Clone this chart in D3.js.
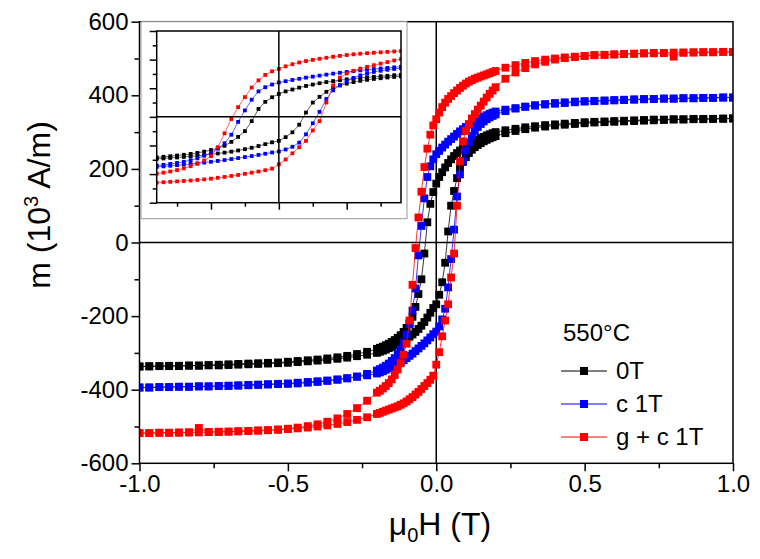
<!DOCTYPE html>
<html><head><meta charset="utf-8">
<script src="https://cdn.jsdelivr.net/npm/d3@7"></script>
<style>body{margin:0;background:#fff}svg{display:block;font-family:Arial,"Liberation Sans",sans-serif}</style>
</head><body><svg id="c" width="760" height="559"></svg>
<script>
// ---------------- data ----------------
// field grid of the descending branch (T), from +1 to -1
const hGrid = [1.0,0.967,0.933,0.9,0.867,0.833,0.8,0.767,0.733,0.7,0.667,0.633,0.6,0.567,0.533,0.5,0.467,0.433,0.4,0.367,0.333,0.3,0.267,0.233,0.2,
 0.19,0.18,0.17,0.16,0.15,0.14,0.13,0.12,0.11,0.1,0.09,0.08,0.07,0.06,0.05,0.04,0.03,0.02,0.01,0,
 -0.01,-0.02,-0.03,-0.04,-0.05,-0.06,-0.07,-0.08,-0.09,-0.1,-0.11,-0.12,-0.13,-0.14,-0.15,-0.16,-0.17,-0.18,-0.19,
 -0.2,-0.233,-0.267,-0.3,-0.333,-0.367,-0.4,-0.433,-0.467,-0.5,-0.533,-0.567,-0.6,-0.633,-0.667,-0.7,-0.733,-0.767,-0.8,-0.833,-0.867,-0.9,-0.933,-0.967,-1.0];
// ascending branch uses the same grid, from -1 to +1
const hGridUp = hGrid.slice().reverse();

const seriesNames = ["0T", "c 1T", "g + c 1T"];
const seriesColors = ["#000000", "#0000ff", "#ff0000"];
const legendTitle = "550°C";

// m (10^3 A/m), descending branch (H: +1 -> -1)
const black_down = [337,337,336,336,336,335,335,334,334,333,332,331,330,329,328,327,325,323,321,319,316,313,309,305,300,
 297,294,291,287,284,280,276,272,267,262,256,250,243,235,226,216,204,191,178,160,
 137,105,55,-30,-100,-140,-175,-202,-219,-232,-243,-252,-259,-265,-270,-275,-279,-283,-286,
 -289,-297,-303,-308,-312,-315,-318,-320,-322,-324,-326,-327,-328,-329,-330,-331,-332,-333,-334,-334,-335,-335,-336,-336,-337];
// ascending branch (H: -1 -> +1)
const black_up = [-337,-337,-336,-336,-336,-335,-335,-334,-334,-333,-332,-331,-330,-329,-328,-327,-325,-323,-321,-319,-316,-313,-309,-305,-300,
 -297,-294,-291,-287,-284,-280,-276,-272,-267,-262,-256,-250,-243,-235,-226,-216,-204,-191,-178,-168,
 -142,-108,-55,30,100,140,175,202,219,232,243,252,259,265,270,275,279,283,286,
 289,297,303,308,312,315,318,320,322,324,326,327,328,329,330,331,332,333,334,334,335,335,336,336,337];

const blue_down = [394,394,393,393,392,392,391,391,390,389,388,387,386,385,384,383,381,379,377,375,372,369,365,361,356,
 353,350,346,342,338,334,329,325,320,314,308,302,295,288,281,274,266,258,249,240,
 226,207,178,120,45,-35,-125,-185,-222,-250,-272,-290,-303,-314,-322,-329,-335,-340,-344,
 -348,-357,-364,-369,-373,-376,-379,-381,-383,-384,-385,-386,-387,-388,-389,-390,-390,-391,-391,-392,-392,-393,-393,-394,-394];
const blue_up = [-394,-394,-393,-393,-392,-392,-391,-391,-390,-389,-388,-387,-386,-385,-384,-383,-381,-379,-377,-375,-372,-369,-365,-361,-356,
 -353,-350,-346,-342,-338,-334,-329,-325,-320,-314,-308,-302,-295,-288,-281,-274,-266,-258,-249,-242,
 -228,-209,-180,-122,-45,35,125,185,222,250,272,290,303,314,322,329,335,340,344,
 348,357,364,369,373,376,379,381,383,384,385,386,387,388,389,390,390,391,391,392,392,393,393,394,394];

const red_down = [518,518,517,517,516,516,505,515,514,514,513,512,511,510,509,507,505,503,500,497,493,488,482,475,466,
 463,460,457,454,451,448,445,441,437,432,426,420,413,406,398,390,380,368,353,335,
 318,293,255,205,138,68,-15,-115,-212,-275,-305,-328,-345,-360,-372,-382,-390,-397,-403,
 -408,-430,-450,-466,-478,-487,-494,-499,-503,-506,-508,-510,-511,-512,-513,-514,-515,-515,-516,-516,-517,-517,-517,-518,-518];
const red_up = [-518,-518,-517,-517,-516,-516,-504,-515,-514,-514,-513,-512,-511,-510,-509,-507,-505,-503,-500,-497,-493,-488,-482,-475,-466,
 -463,-460,-457,-454,-451,-448,-445,-441,-437,-432,-426,-420,-413,-406,-398,-390,-382,-373,-362,-332,
 -298,-255,-212,-168,-95,-30,100,220,275,303,322,337,349,361,372,383,394,404,413,
 422,445,462,474,484,491,497,501,504,507,509,510,511,512,513,514,515,515,516,516,517,517,517,518,518];

const xTicks = [-1.0,-0.5,0.0,0.5,1.0];
const xTickLabels = ["-1.0","-0.5","0.0","0.5","1.0"];
const xMinor = [-0.75,-0.25,0.25,0.75];
const yTicks = [-600,-400,-200,0,200,400,600];
const yTickLabels = ["-600","-400","-200","0","200","400","600"];
const yMinor = [-500,-300,-100,100,300,500];
const insetXTicks = [-0.1,0,0.1];
const insetXMinor = [-0.15,-0.05,0.05,0.15];
const insetYTicks = [-600,-400,-200,0,200,400,600];
const insetYMinor = [-500,-300,-100,100,300,500];

const series = [
  {name: seriesNames[0], color: seriesColors[0], down: black_down, up: black_up},
  {name: seriesNames[1], color: seriesColors[1], down: blue_down, up: blue_up},
  {name: seriesNames[2], color: seriesColors[2], down: red_down, up: red_up}
];
function pts(s){
  const a = hGrid.map((h,i)=>[h, s.down[i]]);
  const b = hGridUp.map((h,i)=>[h, s.up[i]]);
  return a.concat(b);
}

// ---------------- drawing ----------------
const svg = d3.select("#c");
const L=139.5, R=733, T=21.7, B=463.3;
const x = d3.scaleLinear().domain([-1,1]).range([L,R]);
const y = d3.scaleLinear().domain([-600,600]).range([B,T]);

const clipM = svg.append("clipPath").attr("id","cm");
clipM.append("rect").attr("x",L).attr("y",T).attr("width",R-L).attr("height",B-T);

// zero lines
svg.append("line").attr("x1",x(0)).attr("x2",x(0)).attr("y1",T).attr("y2",B).attr("stroke","#000").attr("stroke-width",1.5);
svg.append("line").attr("x1",L).attr("x2",R).attr("y1",y(0)).attr("y2",y(0)).attr("stroke","#000").attr("stroke-width",1.5);

const gm = svg.append("g").attr("clip-path","url(#cm)");
const ms = 7.8;
series.forEach(s=>{
  const p = pts(s);
  const line = d3.line().x(d=>x(d[0])).y(d=>y(d[1]));
  gm.append("path").attr("d",line(p)).attr("fill","none").attr("stroke",s.color).attr("stroke-width",0.8);
  gm.append("g").selectAll("rect").data(p).join("rect")
    .attr("x",d=>x(d[0])-ms/2).attr("y",d=>y(d[1])-ms/2).attr("width",ms).attr("height",ms)
    .attr("fill",s.color);
});

// frame
svg.append("rect").attr("x",L).attr("y",T).attr("width",R-L).attr("height",B-T).attr("fill","none").attr("stroke","#000").attr("stroke-width",1.5);

// axes
svg.append("g").attr("transform",`translate(0,${B})`)
  .call(d3.axisBottom(x).tickValues(xTicks).tickSize(8).tickPadding(4).tickFormat((d,i)=>xTickLabels[i]));
svg.append("g").attr("transform",`translate(0,${B})`)
  .call(d3.axisBottom(x).tickValues(xMinor).tickSize(5).tickFormat(""));
svg.append("g").attr("transform",`translate(${L},0)`)
  .call(d3.axisLeft(y).tickValues(yTicks).tickSize(8).tickPadding(3).tickFormat((d,i)=>yTickLabels[i]));
svg.append("g").attr("transform",`translate(${L},0)`)
  .call(d3.axisLeft(y).tickValues(yMinor).tickSize(5).tickFormat(""));
svg.selectAll(".domain").remove();
svg.selectAll(".tick line").attr("stroke","#000").attr("stroke-width",1.5);
svg.selectAll(".tick text").attr("fill","#000").style("font-size","24px");

// axis titles
const xt = svg.append("text").attr("x",440).attr("y",535).attr("text-anchor","middle").style("font-size","32px");
xt.append("tspan").text("μ");
xt.append("tspan").attr("dy",7).style("font-size","20px").text("0");
xt.append("tspan").attr("dy",-7).text("H (T)");
const yt = svg.append("text").attr("transform",`translate(50,205) rotate(-90)`).attr("text-anchor","middle").style("font-size","32px");
yt.append("tspan").text("m (10");
yt.append("tspan").attr("dy",-12).style("font-size","20px").text("3");
yt.append("tspan").attr("dy",12).text(" A/m)");

// legend
svg.append("text").attr("x",563).attr("y",341).style("font-size","24px").text(legendTitle);
series.forEach((s,i)=>{
  const ly = 371 + i*33;
  svg.append("line").attr("x1",561).attr("x2",607).attr("y1",ly).attr("y2",ly).attr("stroke",s.color).attr("stroke-width",1);
  svg.append("rect").attr("x",584-4).attr("y",ly-4).attr("width",8).attr("height",8).attr("fill",s.color);
  svg.append("text").attr("x",616).attr("y",ly+8).style("font-size","24px").text(s.name);
});

// ---------------- inset ----------------
const iL=156.7, iR=401, iT=31, iB=202.7;
svg.append("rect").attr("x",141).attr("y",21.7).attr("width",266).attr("height",197).attr("fill","#fff").attr("stroke","#999").attr("stroke-width",1);
const ix = d3.scaleLinear().domain([-0.18,0.18]).range([iL,iR]);
const iy = d3.scaleLinear().domain([-600,600]).range([iB,iT]);
const clipI = svg.append("clipPath").attr("id","ci");
clipI.append("rect").attr("x",iL).attr("y",iT).attr("width",iR-iL).attr("height",iB-iT);
const gi = svg.append("g").attr("clip-path","url(#ci)");
const ims = 3.8;
series.forEach(s=>{
  const p = pts(s);
  const line = d3.line().x(d=>ix(d[0])).y(d=>iy(d[1]));
  gi.append("path").attr("d",line(p)).attr("fill","none").attr("stroke",s.color).attr("stroke-width",0.6);
  gi.append("g").selectAll("rect").data(p).join("rect")
    .attr("x",d=>ix(d[0])-ims/2).attr("y",d=>iy(d[1])-ims/2).attr("width",ims).attr("height",ims)
    .attr("fill",s.color);
});
svg.append("line").attr("x1",ix(0)).attr("x2",ix(0)).attr("y1",iT).attr("y2",iB).attr("stroke","#000").attr("stroke-width",1.5);
svg.append("line").attr("x1",iL).attr("x2",iR).attr("y1",iy(0)).attr("y2",iy(0)).attr("stroke","#000").attr("stroke-width",1.5);
svg.append("rect").attr("x",iL).attr("y",iT).attr("width",iR-iL).attr("height",iB-iT).attr("fill","none").attr("stroke","#000").attr("stroke-width",1.5);
const ig = svg.append("g");
ig.append("g").attr("transform",`translate(0,${iB})`).call(d3.axisBottom(ix).tickValues(insetXTicks).tickSize(7).tickFormat(""));
ig.append("g").attr("transform",`translate(0,${iB})`).call(d3.axisBottom(ix).tickValues(insetXMinor).tickSize(4).tickFormat(""));
ig.append("g").attr("transform",`translate(${iL},0)`).call(d3.axisLeft(iy).tickValues(insetYTicks).tickSize(7).tickFormat(""));
ig.append("g").attr("transform",`translate(${iL},0)`).call(d3.axisLeft(iy).tickValues(insetYMinor).tickSize(4).tickFormat(""));
ig.selectAll(".domain").remove();
ig.selectAll(".tick line").attr("stroke","#000").attr("stroke-width",1.5);
</script></body></html>
